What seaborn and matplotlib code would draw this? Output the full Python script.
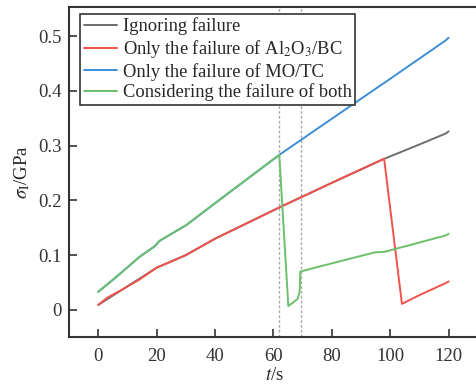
import numpy as np
import pandas as pd
import matplotlib
matplotlib.use('Agg')
import matplotlib.pyplot as plt
import seaborn as sns

# data
t_ignore = [0, 8.5, 20, 30, 40, 48.5, 62, 80, 98, 110, 119, 120]
s_ignore = [0.009, 0.038, 0.077, 0.100, 0.130, 0.152, 0.187, 0.232, 0.276, 0.302, 0.322, 0.326]

t_al2o3 = [0, 3, 8.5, 14, 20, 27, 30, 40, 48.5, 62, 80, 97.9, 104, 110, 119, 120]
s_al2o3 = [0.009, 0.022, 0.038, 0.055, 0.077, 0.093, 0.100, 0.130, 0.152, 0.187, 0.232, 0.276, 0.011, 0.027, 0.049, 0.052]

t_mo = [0, 5.7, 14.2, 19.3, 21, 30.2, 41.3, 62, 80, 100, 119, 120]
s_mo = [0.033, 0.058, 0.097, 0.116, 0.126, 0.155, 0.200, 0.283, 0.349, 0.422, 0.492, 0.497]

t_both = [0, 5.7, 14.2, 19.3, 21, 30.2, 41.3, 62, 65.1, 68.3, 69.0, 69.2, 80, 94.7, 98, 110, 119, 120]
s_both = [0.033, 0.058, 0.097, 0.116, 0.126, 0.155, 0.200, 0.283, 0.007, 0.020, 0.035, 0.070, 0.085, 0.105, 0.106, 0.123, 0.136, 0.139]

fail_times = [62, 69.4]

labels = ['Ignoring failure',
          r'Only the failure of Al$_2$O$_3$/BC',
          'Only the failure of MO/TC',
          'Considering the failure of both']
colors = ['#6e6e6e', '#f0524c', '#3d8dd6', '#6cbf6c']

sns.set_style('ticks')
plt.rcParams['font.family'] = ['Liberation Serif', 'DejaVu Serif']
plt.rcParams['mathtext.fontset'] = 'stix'

fig = plt.figure(figsize=(4.77, 3.88), dpi=100)
ax = fig.add_axes([0.1447, 0.1307, 0.862, 0.8513])

series = [(t_ignore, s_ignore), (t_al2o3, s_al2o3), (t_mo, s_mo), (t_both, s_both)]
for (t, s), lab, c in zip(series, labels, colors):
    sns.lineplot(x=t, y=s, ax=ax, color=c, linewidth=1.4, label=lab, sort=False)

for ft in fail_times:
    ax.axvline(ft, color='#aaaaaa', linestyle=(0, (2, 1.5)), linewidth=1.0, zorder=0)

ax.set_xlim(-10, 130.8)
ax.set_ylim(-0.05, 0.553)
ax.set_xticks([0, 20, 40, 60, 80, 100, 120])
ax.set_yticks([0, 0.1, 0.2, 0.3, 0.4, 0.5])
ax.set_yticklabels(['0', '0.1', '0.2', '0.3', '0.4', '0.5'])
ax.tick_params(direction='in', length=6, width=1.2, labelsize=13.5, colors='#333333')
ax.tick_params(axis='x', pad=8)
ax.tick_params(axis='y', pad=5)
for sp in ax.spines.values():
    sp.set_linewidth(1.5)
    sp.set_color('#333333')

ax.set_xlabel(r'$t$/s', fontsize=13.5, labelpad=1)
ax.set_ylabel(r'$\sigma_{\mathrm{I}}$/GPa', fontsize=13.5, labelpad=5)

leg = ax.legend(loc='upper left', bbox_to_anchor=(0.027, 0.979), borderaxespad=0,
                fontsize=13.3, frameon=True, fancybox=False, handlelength=1.8,
                handletextpad=0.3, labelspacing=0.14, borderpad=0.2)
leg.get_frame().set_edgecolor('#333333')
leg.get_frame().set_linewidth(1.2)
leg.get_frame().set_alpha(1)

fig.savefig('out.png', dpi=100)
